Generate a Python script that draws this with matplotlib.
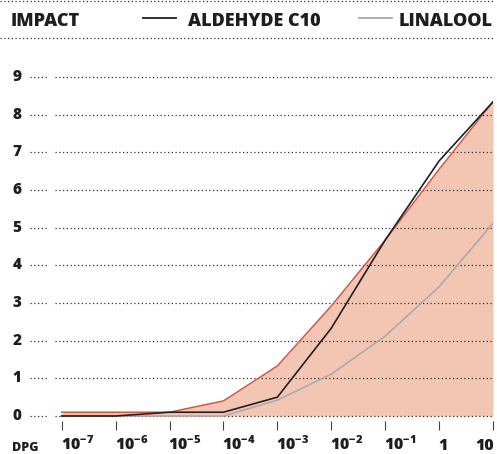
import matplotlib
matplotlib.use("Agg")
import matplotlib.pyplot as plt
from matplotlib.lines import Line2D

plt.rcParams['font.family'] = ['Open Sans', 'DejaVu Sans']
plt.rcParams['font.weight'] = 'bold'
plt.rcParams['mathtext.fontset'] = 'custom'
plt.rcParams['mathtext.rm'] = 'Open Sans:weight=heavy'
plt.rcParams['mathtext.bf'] = 'Open Sans:weight=heavy'
plt.rcParams['mathtext.it'] = 'Open Sans:weight=heavy'

# dose exponents (10^x) and labels
dose_exp = [-7, -6, -5, -4, -3, -2, -1, 0, 1]
dose_labels = [r'$\mathbf{10^{-7}}$', r'$\mathbf{10^{-6}}$', r'$\mathbf{10^{-5}}$',
               r'$\mathbf{10^{-4}}$', r'$\mathbf{10^{-3}}$', r'$\mathbf{10^{-2}}$',
               r'$\mathbf{10^{-1}}$', '1', '10']
impact_ticks = [0, 1, 2, 3, 4, 5, 6, 7, 8, 9]

# series
envelope = [0.1, 0.1, 0.1, 0.4, 1.33, 2.92, 4.67, 6.55, 8.34]
aldehyde = [0.0, 0.0, 0.1, 0.1, 0.5, 2.33, 4.67, 6.77, 8.34]
linalool = [0.0, 0.0, 0.0, 0.0, 0.42, 1.11, 2.12, 3.43, 5.12]

c_fill = '#f3c6b3'
c_red = '#d9553c'
c_black = '#231f20'
c_gray = '#ababab'
c_dot = '#333333'
c_txt = '#1e1e1e'

W, H = 497, 454
fig = plt.figure(figsize=(W / 100, H / 100), dpi=100)
ax = fig.add_axes([55 / W, 33 / H, 438 / W, 361 / H])
ax.set_xlim(-7.125, 1.0)
ax.set_ylim(-0.133, 9.45)

ax.fill_between(dose_exp, 0, envelope, color=c_fill, lw=0, zorder=1)
for v in impact_ticks:
    ax.axhline(v, color=c_dot, lw=0.9, ls=(0, (1, 2)), zorder=2)
    ax.plot([-0.057, -0.018], [v, v], transform=ax.get_yaxis_transform(),
            color=c_dot, lw=0.9, ls=(0, (1, 2)), clip_on=False)
    ax.text(-0.087, v, str(v), transform=ax.get_yaxis_transform(),
            ha='center', va='center', fontsize=11, fontweight='heavy', color=c_txt)

ax.plot(dose_exp, envelope, color=c_red, lw=1.1, zorder=3)
ax.plot(dose_exp, linalool, color=c_gray, lw=1.2, zorder=4)
ax.plot(dose_exp, aldehyde, color=c_black, lw=1.2, zorder=5)

for s in ax.spines.values():
    s.set_visible(False)
ax.set_yticks([])
ax.set_xticks(dose_exp)
ax.set_xticklabels([])
ax.tick_params(axis='x', direction='out', length=6.5, width=0.8, color='#444444')

# labels sit to the right of their tick, the last one to the left
for i, (x, lab) in enumerate(zip(dose_exp, dose_labels)):
    last = i == len(dose_exp) - 1
    ax.text(x + (0.02 if last else -0.02), -0.08, lab, transform=ax.get_xaxis_transform(),
            ha='right' if last else 'left', va='baseline',
            fontsize=11.5, fontweight='heavy', color=c_txt)
fig.text(12 / W, (454 - 451) / H, 'DPG', ha='left', va='baseline',
         fontsize=9, fontweight='heavy', color=c_txt)

# header
fig.add_artist(Line2D([0, 494 / W], [1 - 0.8 / H, 1 - 0.8 / H], color=c_dot, lw=0.9, ls=(0, (1, 2))))
fig.add_artist(Line2D([0, 494 / W], [1 - 38 / H, 1 - 38 / H], color=c_dot, lw=0.9, ls=(0, (1, 2))))
ty = 1 - 21 / H
fig.text(11 / W, ty, 'IMPACT', ha='left', va='center', fontsize=13, fontweight='heavy', color=c_txt)
fig.add_artist(Line2D([143 / W, 176 / W], [1 - 18.3 / H] * 2, color=c_black, lw=1.3))
fig.text(188 / W, ty, 'ALDEHYDE C10', ha='left', va='center', fontsize=13, fontweight='heavy', color=c_txt)
fig.add_artist(Line2D([359 / W, 392 / W], [1 - 18.3 / H] * 2, color=c_gray, lw=1.3))
fig.text(493 / W, ty, 'LINALOOL', ha='right', va='center', fontsize=13, fontweight='heavy', color=c_txt)

fig.savefig('out.png', dpi=100)
